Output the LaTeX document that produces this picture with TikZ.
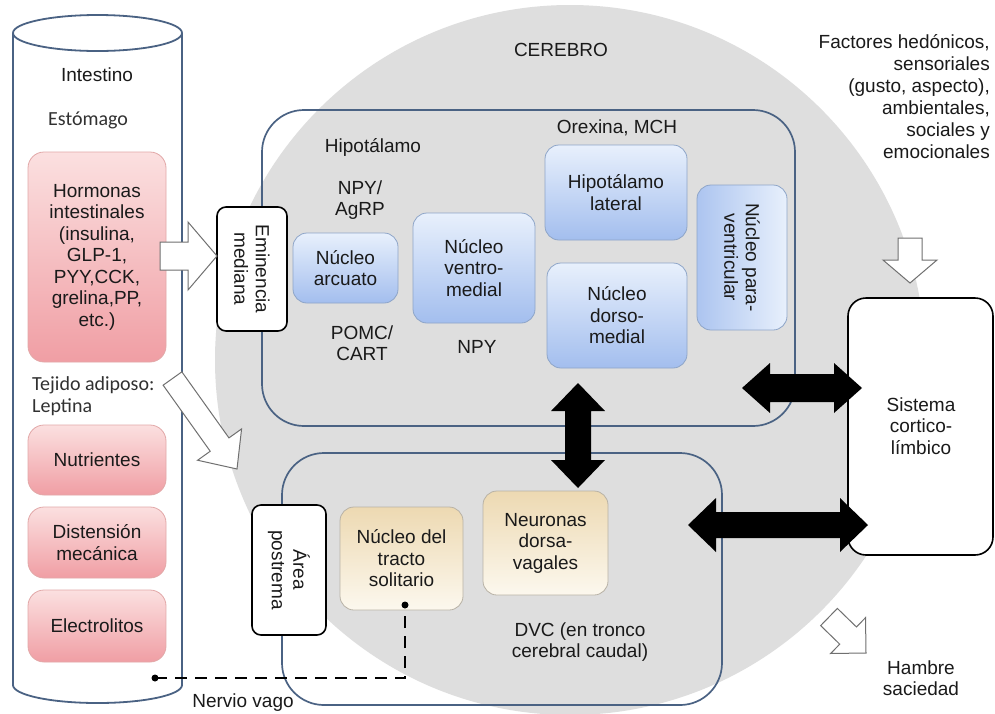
\documentclass[tikz,border=0pt]{standalone}
\usepackage{fontspec}
\setmainfont{Liberation Sans}
\newfontfamily\calibfont{Carlito}
\usetikzlibrary{calc}
\definecolor{txtc}{HTML}{1A1A1A}
\definecolor{brain}{HTML}{DEDEDE}
\definecolor{lineblue}{HTML}{4A6283}
\definecolor{pinkT}{HTML}{FBE0E0}
\definecolor{pinkB}{HTML}{F09EA4}
\definecolor{pinkD}{HTML}{E2A8A8}
\definecolor{blueT}{HTML}{E8F0FC}
\definecolor{blueB}{HTML}{A3BEEE}
\definecolor{blueD}{HTML}{8EA5C8}
\definecolor{tanT}{HTML}{EDD9B2}
\definecolor{tanB}{HTML}{FCF8EE}
\definecolor{tanD}{HTML}{B8B2A6}
\definecolor{arrgray}{HTML}{707070}

\newcommand{\singleblock}[6]{%
  \path ($(#3)!#6!(#2)$) coordinate (hbB);
  \draw[#1] ($(#2)!#4!90:(#3)$) -- ($(hbB)!#4!90:(#3)$) -- ($(hbB)!#5!90:(#3)$) -- (#3)
    -- ($(hbB)!#5!-90:(#3)$) -- ($(hbB)!#4!-90:(#3)$) -- ($(#2)!#4!-90:(#3)$) -- cycle;}
\newcommand{\doubleblock}[6]{%
  \path ($(#2)!#6!(#3)$) coordinate (hbA) ($(#3)!#6!(#2)$) coordinate (hbB);
  \fill[#1] (#2) -- ($(hbA)!#5!90:(#3)$) -- ($(hbA)!#4!90:(#3)$) -- ($(hbB)!#4!90:(#3)$)
    -- ($(hbB)!#5!90:(#3)$) -- (#3) -- ($(hbB)!#5!-90:(#3)$) -- ($(hbB)!#4!-90:(#3)$)
    -- ($(hbA)!#4!-90:(#3)$) -- ($(hbA)!#5!-90:(#3)$) -- cycle;}

\tikzset{
  txt/.style={font=\fontsize{19}{21.5}\selectfont, text=txtc, align=center, inner sep=0pt},
  ctxt/.style={font=\calibfont\fontsize{20}{22}\selectfont, text=txtc!90, inner sep=0pt},
  pinkbox/.style={txt, draw=pinkD, line width=0.8pt, rounded corners=16pt,
    top color=pinkT, bottom color=pinkB, minimum width=138pt},
  bluebox/.style={txt, draw=blueD, line width=0.8pt, rounded corners=14pt,
    top color=blueT, bottom color=blueB},
  tanbox/.style={txt, draw=tanD, line width=0.8pt, rounded corners=14pt,
    top color=tanT, bottom color=tanB},
  regionbox/.style={draw=lineblue, line width=1.7pt, rounded corners=42pt, inner sep=0pt},
  whitebox/.style={txt, draw=black, line width=1.6pt, fill=white, rounded corners=9pt},
  cyl/.style={draw=lineblue, line width=1.8pt},
  whitearrow/.style={fill=white, draw=arrgray, line width=1pt, line join=miter},
  blackarrow/.style={fill=black},
  vagus/.style={line width=1.6pt, dash pattern=on 12pt off 8pt},
}

\begin{document}
\begin{tikzpicture}[x=1pt,y=-1pt]
\useasboundingbox (0,0) rectangle (995,713);
\fill[white] (0,0) rectangle (995,713);

% brain
\fill[brain] (570,360) circle[radius=355pt];
\node[txt] (cerebro) at (561,50) {CEREBRO};

% intestine cylinder
\draw[cyl, fill=white] (13,33) -- (13,685) arc[start angle=180, end angle=360, x radius=84.5pt, y radius=18pt] -- (182,33);
\draw[cyl, fill=white] (97.5,33) ellipse[x radius=84.5pt, y radius=18pt];

\node[txt] (intestino) at (97,75) {Intestino};
\node[ctxt, anchor=west] (estomago) at (48,120) {Estómago};
\node[pinkbox, minimum height=210pt] (horm) at (97,257)
  {Hormonas\\intestinales\\(insulina,\\GLP-1,\\PYY,CCK,\\grelina,PP,\\etc.)};
\node[ctxt, anchor=west] (tejido) at (32,385) {Tejido adiposo:};
\node[ctxt, anchor=west] (leptina) at (32,407) {Leptina};
\node[pinkbox, minimum height=70pt] (nutr) at (97,460) {Nutrientes};
\node[pinkbox, minimum height=71pt] (dist) at (97,542.5) {Distensión\\mecánica};
\node[pinkbox, minimum height=72pt] (elec) at (97,626) {Electrolitos};

% regions
\node[regionbox, minimum width=533pt, minimum height=316pt] (hyp) at (528.5,268) {};
\node[regionbox, minimum width=440pt, minimum height=252pt] (dvc) at (502,579) {};

% hypothalamus content
\node[txt] (hipot) at (373,147) {Hipotálamo};
\node[txt] (npyagrp) at (360,200) {NPY/\\AgRP};
\node[txt] (pomc) at (362,343) {POMC/\\CART};
\node[txt] (npy) at (477,347) {NPY};
\node[txt] (orex) at (617,128) {Orexina, MCH};
\node[bluebox, minimum width=105pt, minimum height=70pt] (arc) at (345.5,268) {Núcleo\\arcuato};
\node[bluebox, minimum width=122pt, minimum height=110pt] (vmed) at (474,268) {Núcleo\\ventro-\\medial};
\node[bluebox, minimum width=142pt, minimum height=95pt] (hlat) at (616,192.5) {Hipotálamo\\lateral};
\node[bluebox, minimum width=140pt, minimum height=105pt] (dmed) at (617,315.5) {Núcleo\\dorso-\\medial};
\node[txt, draw=blueD, line width=0.8pt, rounded corners=14pt, left color=blueB!90, right color=blueT,
  rotate=-90, minimum width=145pt, minimum height=90pt] (pvn) at (742,257.5) {Núcleo para-\\ventricular};

% DVC content
\node[tanbox, minimum width=123pt, minimum height=103pt] (tracto) at (401.5,558.5) {Núcleo del\\tracto\\solitario};
\node[tanbox, minimum width=125pt, minimum height=104pt] (neur) at (545.5,543) {Neuronas\\dorsa-\\vagales};
\node[txt] (dvctxt) at (580,642) {DVC (en tronco\\cerebral caudal)};

% gateway boxes
\node[whitebox, rotate=-90, minimum width=124pt, minimum height=70pt] (emin) at (252,269) {Eminencia\\mediana};
\node[whitebox, rotate=-90, minimum width=130pt, minimum height=74pt] (area) at (289,570) {Área\\postrema};

% cortico-limbic
\node[whitebox, rounded corners=18pt, minimum width=145pt, minimum height=257pt] (sist) at (920.5,426.5) {};
\node[txt] (sisttxt) at (921,426) {Sistema\\cortico-\\límbico};

\node[txt, align=right, anchor=east, font=\fontsize{19}{22}\selectfont] (factores) at (990,97)
  {Factores hedónicos,\\sensoriales\\(gusto, aspecto),\\ambientales,\\sociales y\\emocionales};
\node[txt] (hambre) at (921,678) {Hambre\\saciedad};
\node[txt] (nervio) at (243,703) {Nervio vago};

% white block arrows
\coordinate (a1s) at (160,256);
\coordinate (a1e) at (217,256);
\singleblock{whitearrow}{a1s}{a1e}{14pt}{34pt}{29pt}
\coordinate (a2s) at (172.5,378.5);
\coordinate (a2e) at (237,469);
\singleblock{whitearrow}{a2s}{a2e}{11.5pt}{27pt}{30pt}
\coordinate (a3s) at (910,238);
\coordinate (a3e) at (910,283);
\singleblock{whitearrow}{a3s}{a3e}{12pt}{27pt}{23pt}
\coordinate (a4s) at (829,617);
\coordinate (a4e) at (866,653);
\singleblock{whitearrow}{a4s}{a4e}{12pt}{25pt}{25pt}

% black double arrows
\coordinate (v1) at (578,383);
\coordinate (v2) at (578,488);
\doubleblock{blackarrow}{v1}{v2}{13pt}{27pt}{28pt}
\coordinate (h1a) at (742,388);
\coordinate (h1b) at (862,388);
\doubleblock{blackarrow}{h1a}{h1b}{14pt}{25pt}{28pt}
\coordinate (h2a) at (688,525);
\coordinate (h2b) at (868,525);
\doubleblock{blackarrow}{h2a}{h2b}{13pt}{27pt}{28pt}

% vagus nerve
\coordinate (vagL) at (155,678);
\coordinate (vagC) at (405,678);
\coordinate (vagR) at (405,605);
\draw[vagus] (vagL) -- (vagC) -- (vagR);
\fill (vagL) circle[radius=3.5pt];
\fill (vagR) circle[radius=3.5pt];
\end{tikzpicture}
\end{document}
